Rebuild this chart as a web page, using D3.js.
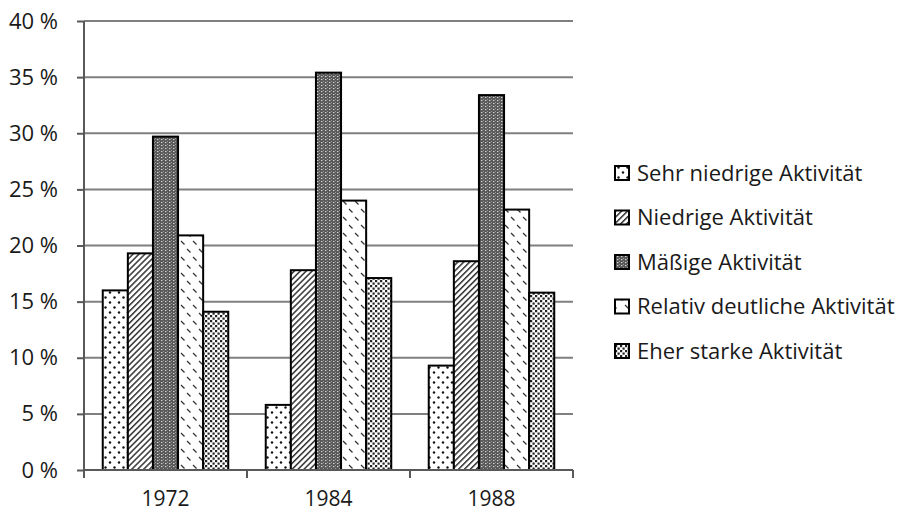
<!DOCTYPE html>
<html><head><meta charset="utf-8">
<script src="https://cdn.jsdelivr.net/npm/d3@7"></script>
<style>body{margin:0;background:#fff}svg{display:block}text{font-family:"Open Sans",sans-serif;fill:#1a1a1a}</style>
</head><body>
<script>
const categories = ["1972", "1984", "1988"];
const seriesNames = ["Sehr niedrige Aktivität", "Niedrige Aktivität", "Mäßige Aktivität", "Relativ deutliche Aktivität", "Eher starke Aktivität"];
const sehrNiedrig = [16.0, 5.8, 9.3];
const niedrig = [19.3, 17.8, 18.6];
const maessig = [29.7, 35.4, 33.4];
const relativ = [20.9, 24.0, 23.2];
const eherStark = [14.1, 17.1, 15.8];
const yTicks = [0, 5, 10, 15, 20, 25, 30, 35, 40];

const seriesValues = [sehrNiedrig, niedrig, maessig, relativ, eherStark];
const patternIds = ["p0", "p1", "p2", "p3", "p4"];

const W = 910, H = 511;
const svg = d3.select("body").append("svg").attr("width", W).attr("height", H);
const defs = svg.append("defs");

// patterns
let p = defs.append("pattern").attr("id", "p0").attr("patternUnits", "userSpaceOnUse").attr("width", 9).attr("height", 10);
p.append("rect").attr("width", 9).attr("height", 10).attr("fill", "#fff");
p.append("circle").attr("cx", 2).attr("cy", 2.5).attr("r", 1.2).attr("fill", "#111");
p.append("circle").attr("cx", 6.5).attr("cy", 7.5).attr("r", 1.2).attr("fill", "#111");

p = defs.append("pattern").attr("id", "p1").attr("patternUnits", "userSpaceOnUse").attr("width", 4.2).attr("height", 4.2).attr("patternTransform", "rotate(45)");
p.append("rect").attr("width", 4.2).attr("height", 4.2).attr("fill", "#fff");
p.append("rect").attr("x", 0).attr("width", 1.5).attr("height", 4.2).attr("fill", "#333");

p = defs.append("pattern").attr("id", "p2").attr("patternUnits", "userSpaceOnUse").attr("width", 4).attr("height", 3);
p.append("rect").attr("width", 4).attr("height", 3).attr("fill", "#585858");
p.append("rect").attr("x", 1).attr("y", 1).attr("width", 1.4).attr("height", 1.1).attr("fill", "#d4d4d4");
p.append("rect").attr("x", 3).attr("y", 0).attr("width", 1).attr("height", 1).attr("fill", "#9a9a9a");

p = defs.append("pattern").attr("id", "p3").attr("patternUnits", "userSpaceOnUse").attr("width", 12).attr("height", 16);
p.append("rect").attr("width", 12).attr("height", 16).attr("fill", "#fff");
p.append("line").attr("x1", 1).attr("y1", 1).attr("x2", 4.5).attr("y2", 4.5).attr("stroke", "#333").attr("stroke-width", 1.2);
p.append("line").attr("x1", 7).attr("y1", 9).attr("x2", 10.5).attr("y2", 12.5).attr("stroke", "#333").attr("stroke-width", 1.2);

p = defs.append("pattern").attr("id", "p4").attr("patternUnits", "userSpaceOnUse").attr("width", 5).attr("height", 5);
p.append("rect").attr("width", 5).attr("height", 5).attr("fill", "#fff");
p.append("rect").attr("x", 0).attr("y", 0).attr("width", 2.2).attr("height", 2.2).attr("fill", "#222");
p.append("rect").attr("x", 2.5).attr("y", 2.5).attr("width", 2.2).attr("height", 2.2).attr("fill", "#222");

const x0 = d3.scaleBand().domain(categories).range([84, 573]).paddingInner(0).paddingOuter(0);
const bw = x0.bandwidth();
const gap = bw * 0.23;
const x1 = d3.scaleBand().domain(seriesNames).range([gap / 2, bw - gap / 2]).padding(0);
const y = d3.scaleLinear().domain([0, 40]).range([470, 21]);

// gridlines
svg.append("g").selectAll("line").data(yTicks.filter(d => d > 0)).join("line")
  .attr("x1", 84).attr("x2", 573).attr("y1", d => y(d)).attr("y2", d => y(d))
  .attr("stroke", "#7f7f7f").attr("stroke-width", 2);

// bars
const g = svg.append("g");
seriesNames.forEach((s, si) => {
  g.append("g").selectAll("rect").data(categories).join("rect")
    .attr("x", c => x0(c) + x1(s))
    .attr("y", (c, i) => y(seriesValues[si][i]))
    .attr("width", x1.bandwidth())
    .attr("height", (c, i) => y(0) - y(seriesValues[si][i]))
    .attr("fill", `url(#${patternIds[si]})`)
    .attr("stroke", "#000").attr("stroke-width", 2);
});

const FS = 22;
// y axis
const ya = svg.append("g").attr("transform", "translate(84,0)")
  .call(d3.axisLeft(y).tickValues(yTicks).tickSize(7).tickPadding(19).tickFormat(d => d + " %"));
ya.select(".domain").attr("stroke", "#595959").attr("stroke-width", 2).attr("d", `M0,${y(40)}V${y(0)}`);
ya.selectAll(".tick line").attr("stroke", "#595959").attr("stroke-width", 2);
ya.selectAll("text").attr("font-size", FS).attr("fill", "#1a1a1a").style("font-family", '"Open Sans",sans-serif');

// x axis
const xa = svg.append("g").attr("transform", `translate(0,${y(0)})`)
  .call(d3.axisBottom(x0).tickSize(0).tickPadding(0));
xa.select(".domain").attr("stroke", "#595959").attr("stroke-width", 2).attr("d", "M84,0H573");
xa.selectAll("text").attr("font-size", 21).attr("y", 36).attr("dy", 0)
  .attr("fill", "#1a1a1a").style("font-family", '"Open Sans",sans-serif');
// category boundary ticks
svg.append("g").selectAll("line").data(categories.concat(["end"])).join("line")
  .attr("x1", (d, i) => i < categories.length ? x0(d) : x0(categories[categories.length - 1]) + bw)
  .attr("x2", (d, i) => i < categories.length ? x0(d) : x0(categories[categories.length - 1]) + bw)
  .attr("y1", y(0)).attr("y2", y(0) + 8)
  .attr("stroke", "#595959").attr("stroke-width", 2);

// legend
const lg = svg.append("g");
seriesNames.forEach((s, i) => {
  const cy = 173 + i * 44.5;
  lg.append("rect").attr("x", 615).attr("y", cy - 7).attr("width", 14).attr("height", 14)
    .attr("fill", `url(#${patternIds[i]})`).attr("stroke", "#000").attr("stroke-width", 2);
  lg.append("text").attr("x", 637).attr("y", cy).attr("dy", "0.35em")
    .attr("font-size", FS).text(s);
});
</script>
</body></html>
